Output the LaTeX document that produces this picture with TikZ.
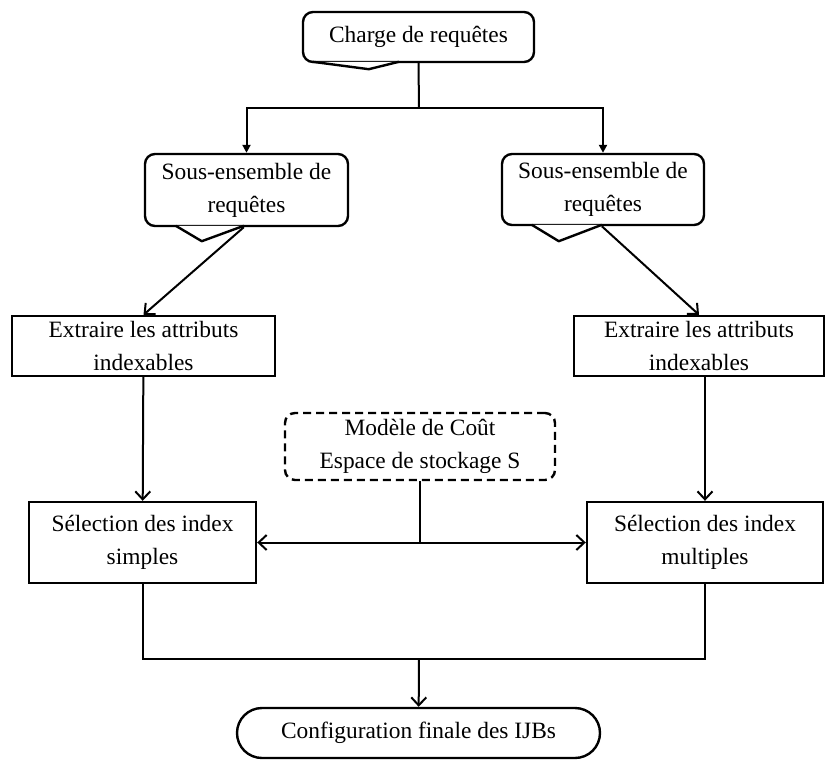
\documentclass[tikz,border=0pt]{standalone}
\usepackage{fontspec}
\setmainfont{Liberation Serif}
\usetikzlibrary{arrows.meta,positioning}

\begin{document}
\begin{tikzpicture}[
  x=0.5pt, y=-0.5pt,
  every node/.style={font=\fontsize{11.7pt}{16.5pt}\selectfont, align=center, inner sep=0pt},
  box/.style={draw, line width=1.2pt},
  bubble/.style={draw, line width=1.2pt, rounded corners=5pt},
  tail/.style={line width=1.2pt, line join=round, fill=white},
  costbox/.style={draw, line width=1.2pt, rounded corners=5pt, dash pattern=on 4pt off 2.5pt},
  term/.style={draw, line width=1.2pt, rounded corners=12.5pt},
  line/.style={line width=1pt},
  arr/.style={line width=1pt, -{Straight Barb[length=4pt,width=7.5pt,line width=1pt]}},
  tip/.style={line width=1pt, -{Triangle[length=4pt,width=4pt]}}
]
\useasboundingbox (0,0) rectangle (825,761);

% callouts
\node[bubble, minimum width=115.5pt, minimum height=25pt] (charge) at (418.5,37) {Charge de requêtes};
\node[bubble, minimum width=101.5pt, minimum height=36pt] (sousL) at (246.5,190) {Sous-ensemble de\\requêtes};
\node[bubble, minimum width=101pt, minimum height=35.5pt] (sousR) at (603,189.5) {Sous-ensemble de\\requêtes};

% callout tails
\draw[tail] ([xshift=5.5pt,yshift=0.7pt]charge.south west) -- ([xshift=33.5pt,yshift=-3pt]charge.south west)
  -- ([xshift=48.5pt,yshift=0.7pt]charge.south west);
\draw[tail] ([xshift=16pt,yshift=0.7pt]sousL.south west) -- ([xshift=29pt,yshift=-7pt]sousL.south west)
  -- ([xshift=50pt,yshift=0.7pt]sousL.south west);
\draw[tail] ([xshift=15.5pt,yshift=0.7pt]sousR.south west) -- ([xshift=29pt,yshift=-7.5pt]sousR.south west)
  -- ([xshift=50.5pt,yshift=0.7pt]sousR.south west);

\node[box, minimum width=131.5pt, minimum height=30pt] (extL) at (143.5,346) {Extraire les attributs\\indexables};
\node[box, minimum width=125pt, minimum height=30pt] (extR) at (699,346) {Extraire les attributs\\indexables};
\node[costbox, minimum width=135pt, minimum height=33.5pt] (cost) at (420,446.5) {Modèle de Coût\\Espace de stockage S};
\node[box, minimum width=113.5pt, minimum height=40.5pt] (selL) at (142.5,542.5) {Sélection des index\\simples};
\node[box, minimum width=118pt, minimum height=40.5pt] (selR) at (705,542.5) {Sélection des index\\multiples};
\node[term, minimum width=181.5pt, minimum height=25pt] (final) at (418.5,733) {Configuration finale des IJBs};

\coordinate (split) at (419,108);
\coordinate (sousLp) at ([xshift=50pt]sousL.south west);
\coordinate (sousRp) at ([xshift=50.5pt]sousR.south west);
\coordinate (merge) at (419,659);

\draw[line] (charge.south) -- (split);
\draw[tip] (split) -| (sousL.north);
\draw[tip] (split) -| (sousR.north);
\draw[arr] (sousLp) -- (extL.north);
\draw[arr] (sousRp) -- (extR.north);
\draw[arr] (extL) -- (selL);
\draw[arr] ([xshift=3pt]extR.south) -- ([xshift=3pt]extR.south |- selR.north);
\draw[arr] (cost.south) |- (selL.east);
\draw[arr] (cost.south) |- (selR.west);
\draw[line] (selL.south) |- (merge) -| (selR.south);
\draw[arr] (merge) -- (final);
\end{tikzpicture}
\end{document}
